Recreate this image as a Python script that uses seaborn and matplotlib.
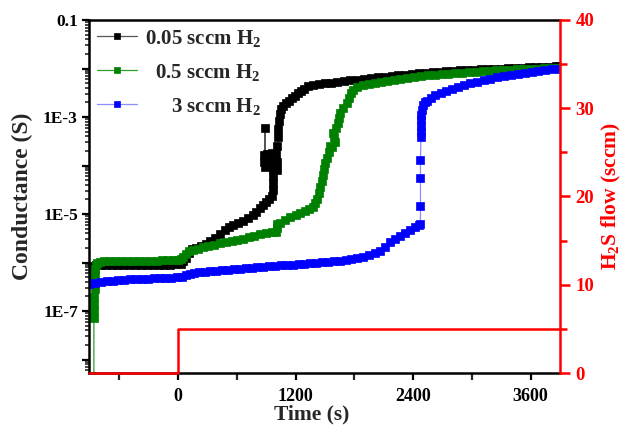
import numpy as np
import matplotlib
matplotlib.use("Agg")
import matplotlib.pyplot as plt
import seaborn as sns
from matplotlib.ticker import (FixedLocator, FuncFormatter, LogLocator,
                               MultipleLocator, NullFormatter)

# ---------------------------------------------------------------- data
# time in seconds, conductance given as log10(G / S)
time_005 = [
    -895, -885, -875, -860, -840, -800, -740, -680, -620, -560,
    -500, -440, -380, -320, -260, -200, -140, -80, -20, 30,
    55, 80, 110, 140, 180, 230, 280, 330, 380, 430,
    480, 520, 560, 610, 660, 710, 760, 800, 840, 870,
    900, 930, 955, 965, 970, 972, 970, 965, 950, 910,
    880, 880, 885, 888, 890, 920, 960, 1000, 1008, 1012,
    1015, 1020, 1025, 1030, 1040, 1055, 1072, 1100, 1130, 1160,
    1190, 1220, 1250, 1290, 1330, 1380, 1440, 1500, 1560, 1620,
    1690, 1760, 1830, 1900, 1970, 2040, 2110, 2180, 2250, 2320,
    2390, 2460, 2530, 2600, 2670, 2740, 2810, 2880, 2950, 3020,
    3090, 3160, 3230, 3300, 3370, 3440, 3510, 3580, 3650, 3720,
    3790, 3860, 3900,
]
logG_005 = [
    -6.40, -6.25, -6.15, -6.08, -6.05, -6.04, -6.04, -6.04, -6.04, -6.04,
    -6.04, -6.04, -6.04, -6.04, -6.04, -6.04, -6.04, -6.04, -6.03, -6.02,
    -5.97, -5.90, -5.80, -5.73, -5.69, -5.65, -5.61, -5.56, -5.49, -5.41,
    -5.33, -5.27, -5.23, -5.19, -5.14, -5.08, -5.01, -4.95, -4.88, -4.82,
    -4.76, -4.69, -4.62, -4.50, -4.36, -4.22, -4.08, -3.95, -3.82, -3.77,
    -3.79, -3.92, -4.02, -3.23, -3.86, -3.76, -3.74, -3.77, -3.92, -4.10,
    -3.60, -3.42, -3.24, -3.08, -2.94, -2.84, -2.77, -2.71, -2.66, -2.61,
    -2.56, -2.51, -2.47, -2.42, -2.37, -2.34, -2.32, -2.30, -2.29, -2.27,
    -2.26, -2.24, -2.23, -2.21, -2.20, -2.18, -2.17, -2.15, -2.14, -2.13,
    -2.11, -2.10, -2.09, -2.08, -2.07, -2.06, -2.05, -2.04, -2.03, -2.03,
    -2.02, -2.01, -2.00, -2.00, -1.99, -1.98, -1.98, -1.97, -1.97, -1.96,
    -1.96, -1.95, -1.95,
]

time_05 = [
    -860, -860, -858, -856, -854, -852, -850, -848, -845, -838,
    -825, -800, -760, -700, -640, -580, -520, -460, -400, -340,
    -280, -220, -160, -100, -40, 0, 25, 50, 80, 110,
    150, 200, 255, 310, 370, 430, 490, 550, 602, 660,
    720, 780, 840, 900, 960, 1000, 1008, 1015, 1040, 1090,
    1144, 1200, 1246, 1300, 1340, 1378, 1400, 1420, 1435, 1450,
    1465, 1480, 1490, 1501, 1520, 1540, 1555, 1575, 1600, 1590,
    1583, 1610, 1634, 1645, 1654, 1680, 1725, 1750, 1770, 1787,
    1830, 1889, 1950, 2010, 2070, 2130, 2200, 2270, 2340, 2410,
    2480, 2550, 2620, 2690, 2760, 2830, 2900, 2970, 3040, 3110,
    3180, 3250, 3320, 3390, 3460, 3530, 3600, 3670, 3740, 3810,
    3880, 3900,
]
logG_05 = [
    -8.60, -7.15, -7.00, -6.85, -6.70, -6.55, -6.40, -6.26, -6.13, -6.04,
    -6.00, -5.98, -5.97, -5.97, -5.97, -5.97, -5.96, -5.96, -5.96, -5.96,
    -5.96, -5.96, -5.95, -5.95, -5.95, -5.94, -5.92, -5.88, -5.82, -5.77,
    -5.74, -5.71, -5.68, -5.66, -5.63, -5.60, -5.58, -5.56, -5.54, -5.51,
    -5.48, -5.45, -5.42, -5.39, -5.37, -5.36, -5.28, -5.20, -5.18, -5.12,
    -5.06, -5.02, -4.98, -4.94, -4.90, -4.86, -4.78, -4.68, -4.56, -4.44,
    -4.32, -4.20, -4.08, -3.95, -3.84, -3.72, -3.60, -3.62, -3.52, -3.42,
    -3.33, -3.22, -3.12, -3.02, -2.92, -2.82, -2.71, -2.60, -2.50, -2.44,
    -2.39, -2.34, -2.31, -2.29, -2.27, -2.25, -2.23, -2.21, -2.19, -2.17,
    -2.16, -2.14, -2.13, -2.12, -2.11, -2.10, -2.09, -2.08, -2.07, -2.06,
    -2.05, -2.04, -2.04, -2.03, -2.02, -2.02, -2.01, -2.00, -1.99, -1.99,
    -1.98, -1.98,
]

time_3 = [
    -905, -850, -790, -730, -670, -610, -550, -490, -430, -370,
    -310, -250, -190, -130, -70, -10, 40, 80, 120, 160,
    210, 270, 330, 390, 450, 510, 570, 630, 690, 750,
    810, 870, 930, 990, 1050, 1110, 1170, 1230, 1290, 1350,
    1410, 1470, 1530, 1590, 1650, 1710, 1770, 1830, 1890, 1950,
    2010, 2060, 2110, 2165, 2215, 2267, 2320, 2370, 2420, 2460,
    2475, 2475, 2475, 2475, 2480, 2480, 2480, 2482, 2485, 2490,
    2500, 2520, 2542, 2580, 2620, 2680, 2740, 2800, 2860, 2920,
    2980, 3050, 3120, 3190, 3260, 3330, 3400, 3470, 3540, 3610,
    3680, 3750, 3820, 3900,
]
logG_3 = [
    -6.44, -6.42, -6.40, -6.38, -6.37, -6.36, -6.35, -6.34, -6.34, -6.33,
    -6.33, -6.32, -6.32, -6.31, -6.31, -6.30, -6.29, -6.26, -6.23, -6.21,
    -6.20, -6.19, -6.18, -6.17, -6.16, -6.15, -6.14, -6.13, -6.12, -6.11,
    -6.10, -6.09, -6.08, -6.07, -6.06, -6.05, -6.04, -6.03, -6.02, -6.01,
    -6.00, -5.99, -5.98, -5.97, -5.96, -5.95, -5.93, -5.91, -5.88, -5.85,
    -5.81, -5.76, -5.68, -5.58, -5.51, -5.45, -5.38, -5.32, -5.27, -5.23,
    -5.20, -4.84, -4.26, -3.89, -3.41, -3.30, -3.18, -3.06, -2.95, -2.85,
    -2.76, -2.70, -2.66, -2.60, -2.55, -2.51, -2.46, -2.42, -2.38, -2.34,
    -2.30, -2.27, -2.24, -2.21, -2.18, -2.15, -2.13, -2.11, -2.09, -2.07,
    -2.05, -2.04, -2.02, -2.01,
]

# H2S flow set point (sccm)
flow_time = [-910, 0, 0, 3900]
flow_sccm = [0, 0, 5, 5]

labels = ["0.05 sccm H$_2$", "0.5 sccm H$_2$", "3 sccm H$_2$"]
marker_colors = ["#000000", "#008000", "#0000ff"]
line_colors = ["#555555", "#2ca02c", "#8c8cff"]

# ---------------------------------------------------------------- style
sns.set_style("ticks")
plt.rcParams["font.family"] = ["Liberation Serif", "DejaVu Serif"]
plt.rcParams["font.weight"] = "bold"
plt.rcParams["axes.labelweight"] = "bold"
plt.rcParams["mathtext.fontset"] = "custom"
plt.rcParams["mathtext.rm"] = "Liberation Serif:bold"
plt.rcParams["mathtext.it"] = "Liberation Serif:bold"
plt.rcParams["mathtext.bf"] = "Liberation Serif:bold"

fig = plt.figure(figsize=(6.24, 4.26), dpi=100)
ax = fig.add_axes([89 / 624, 1 - 373 / 426, 471 / 624, 353 / 426])
ax.set_yscale("log")

series = [(time_005, logG_005), (time_05, logG_05), (time_3, logG_3)]
for (t, lg), lab, mc, lc in zip(series, labels, marker_colors, line_colors):
    sns.lineplot(x=np.asarray(t, float), y=10.0 ** np.asarray(lg), ax=ax,
                 estimator=None, sort=False, legend=False, label=lab,
                 color=lc, linewidth=0.9, marker="s", markersize=5.6,
                 markerfacecolor=mc, markeredgecolor=mc, markeredgewidth=0.5)

ax.set_xlim(-910, 3900)
ax.set_ylim(5.3e-9, 0.1)

# left axis: every decade ticked, odd decades labelled
ax.yaxis.set_major_locator(FixedLocator(10.0 ** np.arange(-8, 0)))
ax.yaxis.set_minor_locator(LogLocator(base=10, subs=np.arange(2, 10), numticks=30))
ax.yaxis.set_minor_formatter(NullFormatter())
lab_map = {-1: "0.1", -3: "1E-3", -5: "1E-5", -7: "1E-7"}
ax.yaxis.set_major_formatter(FuncFormatter(
    lambda v, p: lab_map.get(int(round(np.log10(v))), "")))
ax.xaxis.set_major_locator(MultipleLocator(1200))
ax.xaxis.set_minor_locator(MultipleLocator(600))

for side in ("left", "top", "bottom"):
    ax.spines[side].set_linewidth(1.8)
    ax.spines[side].set_color("black")
ax.spines["right"].set_visible(False)

ax.tick_params(axis="y", which="major", direction="out", length=5, width=1.6,
               labelsize=12.5, pad=3, colors="black")
ax.tick_params(axis="y", which="minor", direction="out", length=3, width=1.2)
ax.tick_params(axis="x", which="major", direction="out", length=5, width=1.6,
               labelsize=13, pad=6, colors="black")
ax.tick_params(axis="x", which="minor", direction="out", length=5, width=1.6)

ax.set_xlabel("Time (s)", fontsize=15.5, fontweight="bold")
ax.xaxis.set_label_coords(0.472, -0.088, transform=ax.transAxes)
ax.xaxis.label.set_va("top")
ax.set_ylabel("Conductance (S)", fontsize=17, fontweight="bold", labelpad=7)

# right axis: gas flow
ax2 = ax.twinx()
sns.lineplot(x=flow_time, y=flow_sccm, ax=ax2, estimator=None, sort=False,
             legend=False, color="#ff0000", linewidth=1.8)
for ln in ax2.get_lines():
    ln.set_clip_on(False)
ax2.set_ylim(0, 40)
ax2.yaxis.set_major_locator(MultipleLocator(10))
ax2.yaxis.set_minor_locator(MultipleLocator(5))
for side in ("left", "top", "bottom"):
    ax2.spines[side].set_visible(False)
ax2.spines["right"].set_color("#ff0000")
ax2.spines["right"].set_linewidth(1.8)
ax2.tick_params(axis="y", which="major", direction="out", length=7, width=1.8,
                labelsize=13.5, pad=4, colors="#ff0000")
ax2.tick_params(axis="y", which="minor", direction="out", length=5, width=1.8,
                colors="#ff0000")
ax2.set_ylabel("H$_2$S flow (sccm)", fontsize=15.5, fontweight="bold",
               color="#ff0000", labelpad=4)

# legend with right-aligned entries
handles, names = ax.get_legend_handles_labels()
leg = ax.legend(handles, names, loc="upper left", bbox_to_anchor=(0.017, 0.978),
                frameon=False, fontsize=15, handlelength=1.9,
                handletextpad=0.4, labelspacing=0.62, borderaxespad=0,
                borderpad=0, markerscale=0.8)
fig.canvas.draw()
renderer = fig.canvas.get_renderer()
texts = leg.get_texts()
widths = [t.get_window_extent(renderer).width for t in texts]
shift = max(widths)
for t, w in zip(texts, widths):
    t.set_position((shift - w, 0))

fig.savefig("out.png", dpi=100)
